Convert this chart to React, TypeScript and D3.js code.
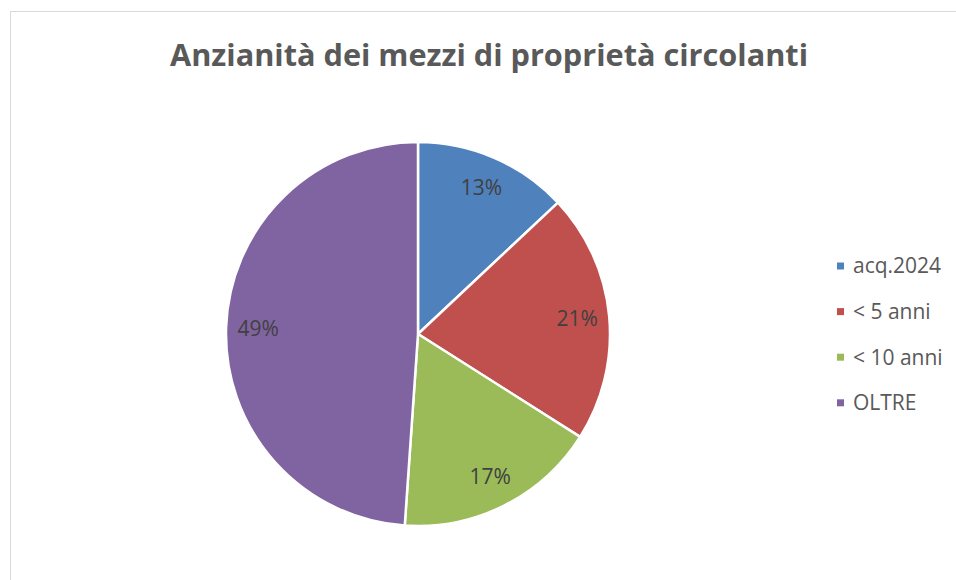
import { useEffect, useRef } from "react";
import * as d3 from "d3";

// categorie e valori (percentuali)
const categorie = ["acq.2024", "< 5 anni", "< 10 anni", "OLTRE"];
const valori = [13.0, 21.0, 17.1, 48.9];
const colori = ["#4F81BD", "#C0504D", "#9BBB59", "#8064A2"];
const titolo = "Anzianità dei mezzi di proprietà circolanti";

const App = () => {
  const svgRef = useRef<SVGSVGElement>(null);

  useEffect(() => {
    const svg = d3.select(svgRef.current);
    svg.selectAll("*").remove();

    const width = 956, height = 580;
    const cx = 418, cy = 334, radius = 192;
    const font = "'Open Sans', 'Liberation Sans', sans-serif";

    // bordo dell'area del grafico
    svg.append("rect")
      .attr("x", 10.5).attr("y", 11.5)
      .attr("width", width + 20).attr("height", height + 20)
      .attr("fill", "#fff")
      .attr("stroke", "#d9d9d9")
      .attr("stroke-width", 1);

    svg.append("text")
      .attr("x", 489).attr("y", 66)
      .attr("text-anchor", "middle")
      .attr("font-family", font)
      .attr("font-weight", "bold")
      .attr("font-size", 30)
      .attr("textLength", 638)
      .attr("lengthAdjust", "spacingAndGlyphs")
      .attr("fill", "#595959")
      .text(titolo);

    const data = categorie.map((c, i) => ({ nome: c, valore: valori[i], colore: colori[i] }));
    const totale = d3.sum(valori);

    const pie = d3.pie<any>().value(d => d.valore).sort(null);
    const arc = d3.arc<any>().innerRadius(0).outerRadius(radius);
    const labelArc = d3.arc<any>().innerRadius(160).outerRadius(160);

    const g = svg.append("g").attr("transform", `translate(${cx},${cy})`);
    const slices = pie(data);

    g.selectAll("path")
      .data(slices)
      .enter()
      .append("path")
      .attr("d", arc)
      .attr("fill", d => d.data.colore)
      .attr("stroke", "#fff")
      .attr("stroke-width", 2.5)
      .attr("stroke-linejoin", "round");

    const fmt = d3.format(".0%");
    g.selectAll("text.lbl")
      .data(slices)
      .enter()
      .append("text")
      .attr("class", "lbl")
      .attr("transform", d => `translate(${labelArc.centroid(d)})`)
      .attr("text-anchor", "middle")
      .attr("dy", "0.35em")
      .attr("font-family", font)
      .attr("font-size", 21)
      .attr("fill", "#404040")
      .text(d => fmt(d.data.valore / totale));

    // legenda
    const leg = svg.append("g").attr("transform", "translate(837,266)");
    const row = leg.selectAll("g")
      .data(data)
      .enter()
      .append("g")
      .attr("transform", (d, i) => `translate(0,${i * 45.6})`);
    row.append("rect")
      .attr("x", 0).attr("y", -3.5)
      .attr("width", 7).attr("height", 7)
      .attr("fill", d => d.colore);
    row.append("text")
      .attr("x", 16).attr("dy", "0.35em")
      .attr("font-family", font)
      .attr("font-size", 21)
      .attr("fill", "#595959")
      .text(d => d.nome);
  }, []);

  return (
    <svg
      ref={svgRef}
      width={956}
      height={580}
      style={{ position: "absolute", left: 0, top: 0, background: "#fff" }}
    />
  );
};

export default App;
